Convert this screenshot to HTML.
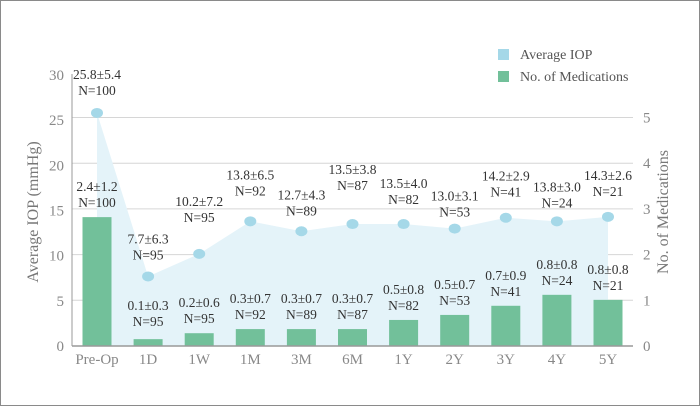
<!DOCTYPE html>
<html><head><meta charset="utf-8"><style>
html,body{margin:0;padding:0;background:#fff}
svg{display:block;font-family:"Liberation Serif",serif}
svg text{font-family:"Liberation Serif",serif}
</style></head><body>
<svg id="chart" width="700" height="406" viewBox="0 0 700 406">
<rect x="0.5" y="0.5" width="699" height="405" fill="#fff" stroke="#8a8a8a"/>
<g id="grid"></g><g id="area"></g><g id="bars"></g><g id="dots"></g><g id="labels"></g><g id="axes"></g>
<g>
<rect x="498" y="49" width="11" height="11" fill="#a5d8e8"/>
<text x="520" y="59" font-size="14" fill="#555">Average IOP</text>
<rect x="498" y="71" width="11" height="11" fill="#72c09a"/>
<text x="520" y="81" font-size="14" fill="#555">No. of Medications</text>
</g>
<text transform="translate(38,212) rotate(-90)" text-anchor="middle" font-size="16" fill="#777">Average IOP  (mmHg)</text>
<text transform="translate(668,212) rotate(-90)" text-anchor="middle" font-size="16" fill="#777">No. of Medications</text>
</svg>
<script>
const categories=["Pre-Op","1D","1W","1M","3M","6M","1Y","2Y","3Y","4Y","5Y"];
const iopMean=[25.8,7.7,10.2,13.8,12.7,13.5,13.5,13.0,14.2,13.8,14.3];
const iopSD=[5.4,6.3,7.2,6.5,4.3,3.8,4.0,3.1,2.9,3.0,2.6];
const iopN=[100,95,95,92,89,87,82,53,41,24,21];
const medsBar=[2.82,0.15,0.28,0.37,0.37,0.37,0.57,0.68,0.88,1.12,1.01];
const medsMean=[2.4,0.1,0.2,0.3,0.3,0.3,0.5,0.5,0.7,0.8,0.8];
const medsSD=[1.2,0.3,0.6,0.7,0.7,0.7,0.8,0.7,0.9,0.8,0.8];
const leftTicks=[0,5,10,15,20,25,30];
const rightTicks=[0,1,2,3,4,5];
const iopLabelLift=[34,33,48,42,32,50,36,28,37,30,37];

const NS="http://www.w3.org/2000/svg";
const X0=72,X1=633,Y0=346;
const yL=v=>Y0-v*(271/30);
const yR=v=>Y0-v*45.7;
const xC=i=>97+i*51.1;
function mk(tag,attrs,parent,txt){const e=document.createElementNS(NS,tag);for(const k in attrs)e.setAttribute(k,attrs[k]);if(txt!==undefined)e.textContent=txt;document.getElementById(parent).appendChild(e);return e;}

rightTicks.forEach(t=>{
  if(t>0){const g=mk('line',{x1:X0,x2:X1,y1:yR(t),y2:yR(t),stroke:'#d6d6d6','stroke-width':1},'grid');
  
  }
  const tl=mk('text',{x:643,y:yR(t)+5,'font-size':15,fill:'#888'},'axes',String(t));
  
  
});
leftTicks.forEach(t=>{
  const tl=mk('text',{x:64,y:yL(t)+5,'font-size':15,fill:'#888','text-anchor':'end'},'axes',String(t));
  
  
});
let pts=categories.map((c,i)=>xC(i)+','+yL(iopMean[i]));
const area=mk('polygon',{points:xC(0)+','+Y0+' '+pts.join(' ')+' '+xC(categories.length-1)+','+Y0,fill:'#e4f3f9'},'area');


const LF={'text-anchor':'middle','font-size':13.5,fill:'#333','font-family':'Liberation Serif, serif'};
categories.forEach((c,i)=>{
  const h=Y0-yR(medsBar[i]);
  const b=mk('rect',{x:xC(i)-14.5,y:yR(medsBar[i]),width:29,height:h,fill:'#72c09a'},'bars');
  
  
  const d=mk('ellipse',{cx:xC(i),cy:yL(iopMean[i]),rx:6,ry:5,fill:'#a5d8e8'},'dots');
  
  
  const dy=yL(iopMean[i])-iopLabelLift[i];
  const l1=mk('text',Object.assign({x:xC(i),y:dy},LF),'labels',iopMean[i].toFixed(1)+'±'+iopSD[i].toFixed(1));
  
  
  const l2=mk('text',Object.assign({x:xC(i),y:dy+16},LF),'labels','N='+iopN[i]);
  
  
  const my=Math.min(yR(medsBar[i])-10,326);
  const m1=mk('text',Object.assign({x:xC(i),y:my-16},LF),'labels',medsMean[i].toFixed(1)+'±'+medsSD[i].toFixed(1));
  
  
  const m2=mk('text',Object.assign({x:xC(i),y:my},LF),'labels','N='+iopN[i]);
  
  
  const xl=mk('text',{x:xC(i),y:364,'text-anchor':'middle','font-size':15,fill:'#888'},'axes',c);
  
  
});
const ax=mk('line',{x1:X0,x2:X1,y1:Y0,y2:Y0,stroke:'#999','stroke-width':1.5},'axes');


const ay=mk('line',{x1:X0,x2:X0,y1:74,y2:Y0,stroke:'#999','stroke-width':1},'axes');


</script>
</body></html>
